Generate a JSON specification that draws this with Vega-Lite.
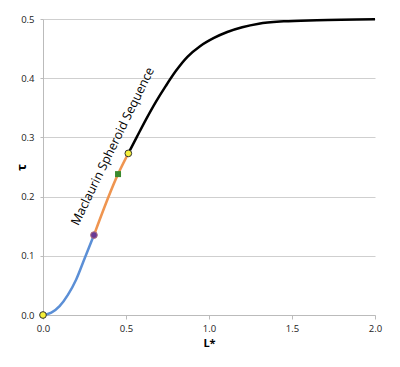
{
  "$schema": "https://vega.github.io/schema/vega-lite/v6.json",
  "width": 332,
  "height": 296,
  "autosize": "none",
  "padding": {"left": 43, "top": 19, "right": 25, "bottom": 52},
  "background": "white",
  "config": {
    "view": {"stroke": null},
    "font": "Open Sans",
    "axis": {"labelFont": "Open Sans", "titleFont": "Open Sans", "labelFontSize": 9.5, "labelColor": "#222", "domainColor": "#bbb", "tickColor": "#bbb", "gridColor": "#cfcfcf", "labelFlush": false}
  },
  "datasets": {
    "curve": [
      {"seg": "a", "L": 0.0, "tau": 0.0},
      {"seg": "a", "L": 0.05, "tau": 0.004},
      {"seg": "a", "L": 0.1, "tau": 0.015},
      {"seg": "a", "L": 0.15, "tau": 0.034},
      {"seg": "a", "L": 0.2, "tau": 0.06},
      {"seg": "a", "L": 0.25, "tau": 0.095},
      {"seg": "a", "L": 0.307, "tau": 0.135},
      {"seg": "b", "L": 0.307, "tau": 0.135},
      {"seg": "b", "L": 0.452, "tau": 0.238},
      {"seg": "b", "L": 0.514, "tau": 0.273},
      {"seg": "c", "L": 0.514, "tau": 0.273},
      {"seg": "c", "L": 0.564, "tau": 0.3},
      {"seg": "c", "L": 0.62, "tau": 0.33},
      {"seg": "c", "L": 0.68, "tau": 0.36},
      {"seg": "c", "L": 0.74, "tau": 0.387},
      {"seg": "c", "L": 0.8, "tau": 0.412},
      {"seg": "c", "L": 0.87, "tau": 0.436},
      {"seg": "c", "L": 0.946, "tau": 0.454},
      {"seg": "c", "L": 1.03, "tau": 0.468},
      {"seg": "c", "L": 1.11, "tau": 0.478},
      {"seg": "c", "L": 1.2, "tau": 0.486},
      {"seg": "c", "L": 1.3, "tau": 0.492},
      {"seg": "c", "L": 1.45, "tau": 0.496},
      {"seg": "c", "L": 1.65, "tau": 0.498},
      {"seg": "c", "L": 2.0, "tau": 0.4995}
    ],
    "marks": [
      {"kind": "y1", "L": 0.0, "tau": 0.0},
      {"kind": "p", "L": 0.307, "tau": 0.135},
      {"kind": "y2", "L": 0.514, "tau": 0.273}
    ],
    "sq": [
      {"L": 0.452, "tau": 0.238}
    ],
    "label": [
      {"L": 0.42, "tau": 0.285, "text": "Maclaurin Spheroid Sequence"}
    ]
  },
  "layer": [
    {
      "data": {"name": "curve"},
      "mark": {"type": "line", "strokeWidth": 2.5, "interpolate": "monotone"},
      "encoding": {
        "x": {"field": "L", "type": "quantitative", "scale": {"domain": [0, 2]},
              "axis": {"values": [0, 0.5, 1, 1.5, 2], "format": ".1f", "grid": false, "title": "L*", "titleFontWeight": "bold", "titleFontSize": 11, "titlePadding": 5, "tickSize": 4, "labelPadding": 4}},
        "y": {"field": "tau", "type": "quantitative", "scale": {"domain": [0, 0.5]},
              "axis": {"values": [0, 0.1, 0.2, 0.3, 0.4, 0.5], "format": ".1f", "grid": true, "title": "τ", "titleFontWeight": "bold", "titleFontSize": 13, "titleX": -22, "titleY": 148, "titleAngle": 270, "titleBaseline": "middle", "titleAlign": "center", "tickSize": 3, "labelPadding": 6}},
        "color": {"field": "seg", "type": "nominal", "scale": {"domain": ["a", "b", "c"], "range": ["#5b8fd6", "#ef9550", "#000000"]}, "legend": null}
      }
    },
    {
      "data": {"name": "marks"},
      "mark": {"type": "point", "filled": true, "size": 45, "strokeWidth": 1, "opacity": 1},
      "encoding": {
        "x": {"field": "L", "type": "quantitative"},
        "y": {"field": "tau", "type": "quantitative"},
        "fill": {"field": "kind", "type": "nominal", "scale": {"domain": ["y1", "p", "y2"], "range": ["#f5f03a", "#6a3a96", "#f5f03a"]}, "legend": null},
        "stroke": {"field": "kind", "type": "nominal", "scale": {"domain": ["y1", "p", "y2"], "range": ["#333333", "#b07080", "#333333"]}, "legend": null}
      }
    },
    {
      "data": {"name": "sq"},
      "mark": {"type": "square", "filled": true, "size": 36, "color": "#3a8a2e", "opacity": 1},
      "encoding": {
        "x": {"field": "L", "type": "quantitative"},
        "y": {"field": "tau", "type": "quantitative"}
      }
    },
    {
      "data": {"name": "label"},
      "mark": {"type": "text", "angle": 296, "fontSize": 12.5, "font": "Open Sans", "color": "#000", "align": "center", "baseline": "middle"},
      "encoding": {
        "x": {"field": "L", "type": "quantitative"},
        "y": {"field": "tau", "type": "quantitative"},
        "text": {"field": "text"}
      }
    }
  ]
}
